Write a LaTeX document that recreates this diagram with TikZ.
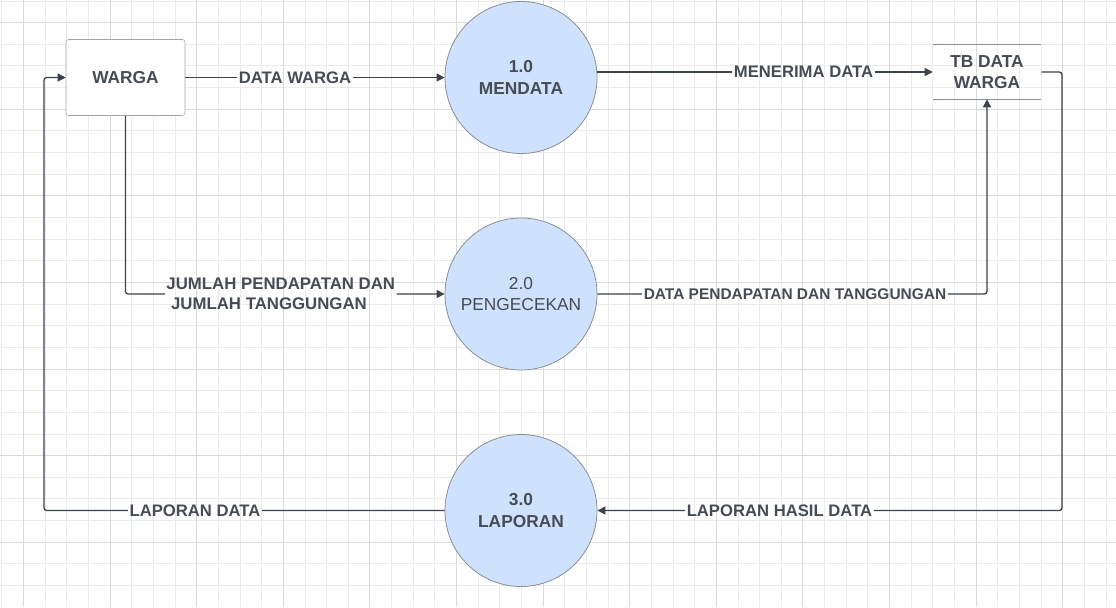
\documentclass[tikz,border=0pt]{standalone}
\usepackage{fontspec}
\setmainfont{Liberation Sans}
\usetikzlibrary{arrows.meta}
\definecolor{gridminor}{HTML}{EBEBEB}
\definecolor{gridmajor}{HTML}{DADADA}
\definecolor{inkline}{HTML}{3D434B}
\definecolor{inktext}{HTML}{474C54}
\definecolor{procfill}{HTML}{CFE2FD}
\definecolor{procline}{HTML}{8A8F96}
\begin{document}
\begin{tikzpicture}[x=0.75pt, y=-0.75pt,
  minor/.style={draw=gridminor, line width=0.75pt},
  major/.style={draw=gridmajor, line width=0.75pt},
  entity/.style={draw=procline!80, fill=white, rounded corners=2pt, minimum width=89.25pt, minimum height=57pt, text=inktext, font=\fontsize{13}{16.3}\selectfont\bfseries},
  process/.style={circle, draw=procline, line width=0.6pt, fill=procfill, minimum size=114pt, inner sep=0pt, align=center, text=inktext, font=\fontsize{13}{16.3}\selectfont\bfseries},
  store/.style={minimum width=81pt, minimum height=40.5pt, align=center, text=inktext, font=\fontsize{13}{15.5}\selectfont\bfseries},
  flowlabel/.style={inner sep=1pt, text=inktext, font=\fontsize{12.5}{14.6}\selectfont\bfseries},
  flow/.style={draw=inkline, line width=1pt, rounded corners=2pt, -{Triangle[length=6pt,width=6pt]}}]
  \useasboundingbox (0,0) rectangle (1116,607);
  \fill[white] (0,0) rectangle (1116,607);
  \foreach \gx in {1.9,23.55,...,1116} \draw[minor] (\gx,0) -- (\gx,607);
  \foreach \gy in {1.0,22.65,...,607} \draw[minor] (0,\gy) -- (1116,\gy);
  \foreach \gx in {23.55,110.15,...,1116} \draw[major] (\gx,0) -- (\gx,607);
  \foreach \gy in {22.65,109.25,...,607} \draw[major] (0,\gy) -- (1116,\gy);

  \node[entity] (warga) at (125.5,77.5) {WARGA};
  \node[process] (m1) at (521,77.5) {1.0\\MENDATA};
  \node[process, font=\fontsize{13}{16.3}\selectfont] (m2) at (521,294) {2.0\\PENGECEKAN};
  \node[process] (m3) at (521,510.5) {3.0\\LAPORAN};
  \node[store] (tb) at (987,72) {TB DATA\\WARGA};
  \draw[procline, line width=0.75pt] (tb.north west) -- (tb.north east) (tb.south west) -- (tb.south east);
  \coordinate (c5) at (1062,72);
  \coordinate (c6) at (44,77.5);

  \node[flowlabel] (lblw) at (295,77.5) {DATA WARGA};
  \node[flowlabel] (lblm) at (803.5,72) {MENERIMA DATA};
  \node[flowlabel, align=left, font=\fontsize{12.6}{14.6}\selectfont\bfseries] (lblj) at (280.8,294) {JUMLAH PENDAPATAN DAN\\\hspace*{3.5pt}JUMLAH TANGGUNGAN};
  \node[flowlabel, font=\fontsize{11.6}{14}\selectfont\bfseries] (lblp) at (795,294) {DATA PENDAPATAN DAN TANGGUNGAN};
  \node[flowlabel] (lblh) at (779.5,510.5) {LAPORAN HASIL DATA};
  \node[flowlabel] (lbll) at (195,510.5) {LAPORAN DATA};

  \draw[flow] (warga.east) -- (lblw) -- (m1.west);
  \draw[flow] (m1.east |- tb.west) -- (lblm) -- (tb.west);
  \draw[flow] (warga.south) |- (lblj) -- (m2.west);
  \draw[flow] (m2.east) -- (lblp) -| (tb.south);
  \draw[flow] (tb.east) -- (c5) |- (lblh) -- (m3.east);
  \draw[flow] (m3.west) -- (lbll) -| (c6) -- (warga.west);
\end{tikzpicture}
\end{document}
